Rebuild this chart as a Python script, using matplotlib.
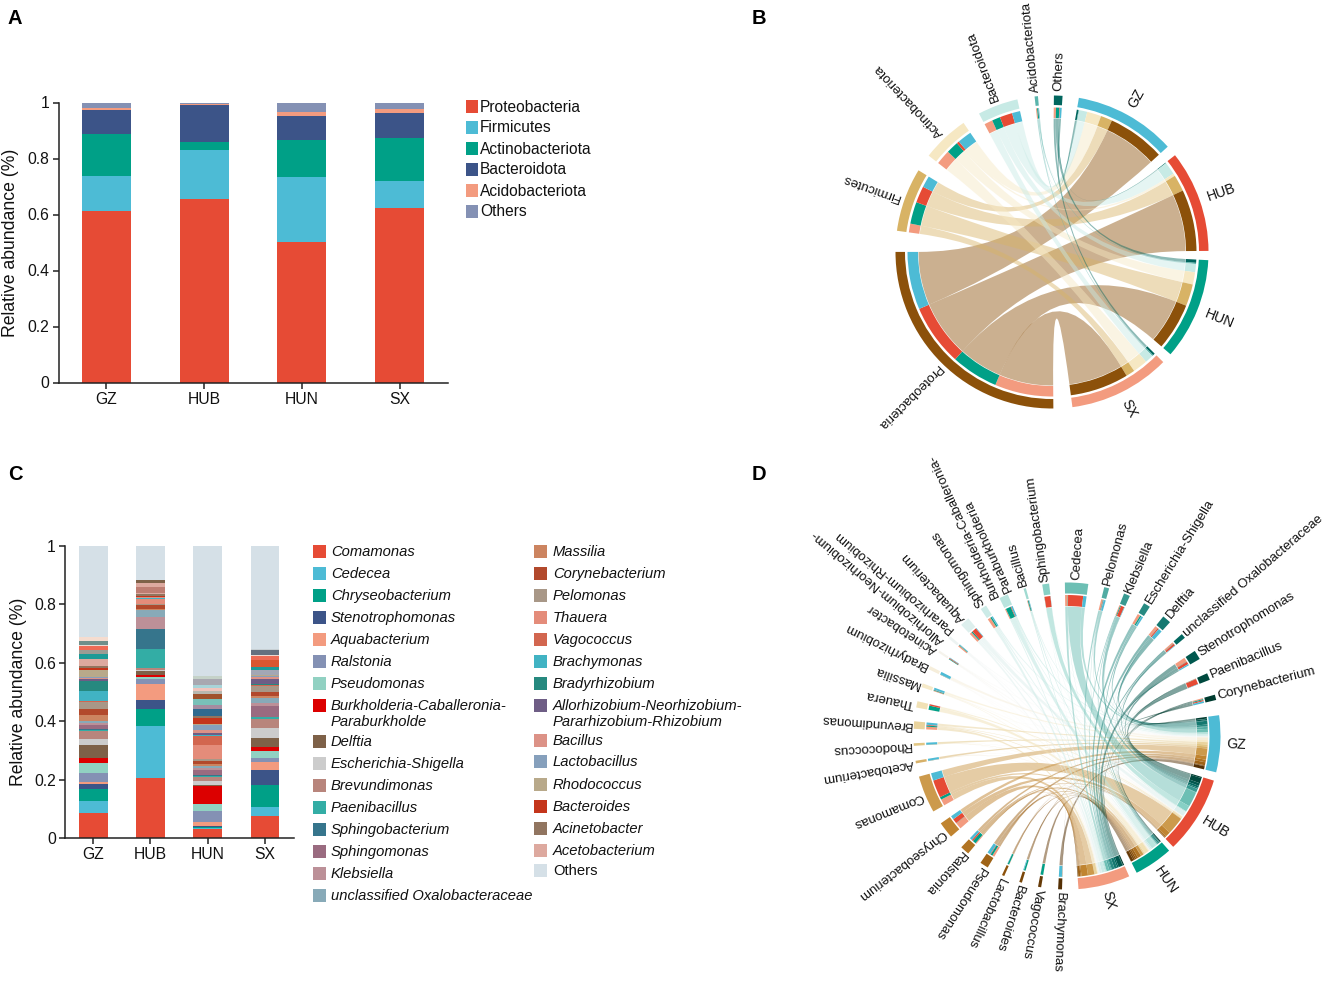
import numpy as np
import matplotlib
matplotlib.use("Agg")
import matplotlib.pyplot as plt
from matplotlib.patches import Wedge, PathPatch, Rectangle
from matplotlib.path import Path

plt.rcParams['font.family'] = ['Liberation Sans', 'DejaVu Sans']

W, H = 1325, 984
regions = ['GZ', 'HUB', 'HUN', 'SX']
region_colors = ['#4DBBD5', '#E64B35', '#00A087', '#F39B7F']

# ---------- Panel A / B data ----------
phyla = ['Proteobacteria', 'Firmicutes', 'Actinobacteriota', 'Bacteroidota', 'Acidobacteriota', 'Others']
phyla_bar_colors = ['#E64B35', '#4DBBD5', '#00A087', '#3C5488', '#F39B7F', '#8491B4']
phyla_ring_colors = ['#8C510A', '#D8B365', '#F6E8C3', '#C7EAE5', '#5AB4AC', '#01665E']
phyla_gz = [.614, .123, .151, .086, .007, .019]
phyla_hub = [.655, .176, .027, .134, .002, .006]
phyla_hun = [.502, .233, .130, .088, .012, .035]
phyla_sx = [.624, .094, .157, .089, .012, .024]

# ---------- Panel C / D data (values are the stack tops, legend order) ----------
genera = ['Comamonas', 'Cedecea', 'Chryseobacterium', 'Stenotrophomonas', 'Aquabacterium', 'Ralstonia',
          'Pseudomonas', 'Burkholderia-Caballeronia-\nParaburkholde', 'Delftia', 'Escherichia-Shigella',
          'Brevundimonas', 'Paenibacillus', 'Sphingobacterium', 'Sphingomonas', 'Klebsiella',
          'unclassified Oxalobacteraceae', 'Massilia', 'Corynebacterium', 'Pelomonas', 'Thauera', 'Vagococcus',
          'Brachymonas', 'Bradyrhizobium', 'Allorhizobium-Neorhizobium-\nPararhizobium-Rhizobium', 'Bacillus',
          'Lactobacillus', 'Rhodococcus', 'Bacteroides', 'Acinetobacter', 'Acetobacterium']
genus_colors = ['#E64B35', '#4DBBD5', '#00A087', '#3C5488', '#F39B7F', '#8491B4', '#91D1C2', '#DC0000', '#7E6148',
                '#CCCCCC', '#B8857C', '#33ADA5', '#36758C', '#9A6B80', '#BC9098', '#88AAB8', '#CC8460', '#B2492C',
                '#A89787', '#E48C7A', '#D2664F', '#41B3C3', '#26897F', '#6E5D85', '#DC9287', '#86A0BC', '#B8A98A',
                '#C4351B', '#917560', '#DDA99F']
others_color = '#D5E0E7'
tops_gz = [.088, .127, .170, .185, .192, .222, .258, .275, .319, .340, .367, .371, .373, .388, .394, .400, .423, .443,
           .467, .468, .469, .505, .537, .544, .550, .553, .576, .584, .590, .614]
tops_hub = [.208, .385, .441, .473, .527, .544, .551, .559, .574, .576, .584, .647, .716, .717, .757, .780, .783, .797,
            .802, .819, .820, .821, .822, .823, .825, .826, .827, .828, .837, .838]
tops_hun = [.031, .034, .037, .041, .055, .095, .119, .179, .181, .197, .211, .214, .216, .232, .242, .246, .254, .265,
            .270, .319, .350, .352, .354, .360, .370, .388, .391, .410, .418, .420]
tops_sx = [.076, .108, .184, .234, .262, .274, .299, .311, .344, .377, .409, .414, .415, .451, .462, .480, .488, .501,
           .521, .522, .523, .526, .528, .544, .552, .556, .557, .558, .559, .560]
# further unlabelled layers in each stack, below "Others"
extra_tops = {
    'GZ': [.630, .645, .658, .663, .676, .688],
    'HUB': [.861, .875, .884],
    'HUN': [.441, .457, .476, .492, .503, .514, .525, .544, .555],
    'SX': [.576, .586, .610, .622, .628, .643, .647],
}
extra_colors = {
    'GZ': ['#1E9A96', '#9C9C94', '#EE6B55', '#EADCD4', '#6F8F8A', '#F5DCCF'],
    'HUB': ['#BE7D72', '#DDA99F', '#7E6148'],
    'HUN': ['#2F6A8F', '#A58CA0', '#79C0B8', '#A0522D', '#B8B8B0', '#F0C4BC', '#A8D4D8', '#A8A8B0', '#C5D2C8'],
    'SX': ['#A3A7B5', '#1E9A96', '#D9572F', '#EE6B55', '#F0D8D0', '#66707F', '#C8D0D4'],
}

# ---------- Chord layout (degrees clockwise from the top) ----------
b_region_starts = [9.9, 51.8, 93.0, 134.7]
b_row_starts = [179.5, 277.8, 308.0, 332.2, 353.6, 360.7]
d_region_starts = [82.2, 106.9, 138.3, 156.1]
d_ring_names = ['Brachymonas', 'Vagococcus', 'Bacteroides', 'Lactobacillus', 'Pseudomonas', 'Ralstonia',
                'Chryseobacterium', 'Comamonas', 'Acetobacterium', 'Rhodococcus', 'Brevundimonas', 'Thauera',
                'Massilia', 'Bradyrhizobium', 'Acinetobacter', 'Allorhizobium-Neorhizobium-\nPararhizobium-Rhizobium',
                'Aquabacterium', 'Sphingomonas', 'Burkholderia-Caballeronia-\nParaburkholde', 'Bacillus',
                'Sphingobacterium', 'Cedecea', 'Pelomonas', 'Klebsiella', 'Escherichia-Shigella', 'Delftia',
                'unclassified Oxalobacteraceae', 'Stenotrophomonas', 'Paenibacillus', 'Corynebacterium']
d_centers = [182.6, 190.3, 197.6, 204.6, 212.7, 221.8, 232.2, 247.6, 260.2, 266.8, 274.1, 281.9, 289.3, 296.4, 303.4,
             310.0, 318.2, 327.0, 335.6, 344.0, 352.0, 363.6, 375.0, 383.0, 391.4, 400.5, 409.3, 418.1, 427.2, 435.4]


def pax(fig, l, t, r, b):
    return fig.add_axes([l / W, 1 - b / H, (r - l) / W, (b - t) / H])


def arc(theta1, theta2, r, n=None):
    n = n or max(2, int(abs(theta2 - theta1)) + 2)
    t = np.radians(np.linspace(theta1, theta2, n))
    return np.column_stack([r * np.sin(t), r * np.cos(t)])


def wedge(ax, t1, t2, r_out, width, color, z=3):
    ax.add_patch(Wedge((0, 0), r_out, 90 - t2, 90 - t1, width=width, facecolor=color, edgecolor='none', zorder=z))


def ribbon(ax, a1, a2, b1, b2, r, color, alpha):
    pa = arc(a1, a2, r)
    pb = arc(b1, b2, r)
    verts = list(pa) + [(0, 0), tuple(pb[0])] + list(pb[1:]) + [(0, 0), tuple(pa[0])]
    codes = [Path.MOVETO] + [Path.LINETO] * (len(pa) - 1) + [Path.CURVE3, Path.CURVE3] + \
            [Path.LINETO] * (len(pb) - 1) + [Path.CURVE3, Path.CURVE3]
    ax.add_patch(PathPatch(Path(verts, codes), facecolor=color, edgecolor='none', alpha=alpha, zorder=2))


def chord(ax, mat, row_names, row_colors, row_starts, region_starts, scale, rt, alpha, label_r, fs):
    """mat: rows x regions in ring order. Rows are clockwise on the ring."""
    r_out, w_out, r_in, w_in, r_rib = rt
    nr, nc = mat.shape
    region_pos = {}
    for c in range(nc):
        t = region_starts[c]
        wedge(ax, t, t + mat[:, c].sum() * scale, r_out, w_out, region_colors[c])
        mid = t + mat[:, c].sum() * scale / 2
        lx, ly = arc(mid, mid, r_out + label_r + 4, 2)[0]
        ax.text(lx, ly, regions[c], rotation=90 - mid, rotation_mode='anchor', ha='left', va='center',
                fontsize=fs + .6, color='#111111', zorder=5)
        for i in range(nr - 1, -1, -1):
            d = mat[i, c] * scale
            wedge(ax, t, t + d, r_in, w_in, row_colors[i])
            region_pos[(i, c)] = (t, t + d)
            t += d
    for i in range(nr):
        t = row_starts[i]
        total = mat[i].sum() * scale
        wedge(ax, t, t + total, r_out, w_out, row_colors[i])
        mid = t + total / 2
        lx, ly = arc(mid, mid, r_out + label_r, 2)[0]
        ax.text(lx, ly, row_names[i], rotation=90 - mid, rotation_mode='anchor', ha='left', va='center',
                fontsize=fs, color='#111111', zorder=5, multialignment='left')
        for c in range(nc - 1, -1, -1):
            d = mat[i, c] * scale
            wedge(ax, t, t + d, r_in, w_in, region_colors[c])
            b1, b2 = region_pos[(i, c)]
            ribbon(ax, t, t + d, b1, b2, r_rib, row_colors[i], alpha)
            t += d


fig = plt.figure(figsize=(W / 100, H / 100), dpi=100)
fig.patch.set_facecolor('white')


def style(ax, ylabel, lx):
    for s in ['top', 'right']:
        ax.spines[s].set_visible(False)
    for s in ['left', 'bottom']:
        ax.spines[s].set_linewidth(1.1)
        ax.spines[s].set_color('#222222')
    ax.set_ylim(0, 1)
    ax.set_yticks([0, .2, .4, .6, .8, 1])
    ax.set_yticklabels(['0', '0.2', '0.4', '0.6', '0.8', '1'])
    ax.set_xticks(range(4))
    ax.set_xticklabels(regions)
    ax.tick_params(length=4.5, width=1.1, labelsize=11.3, color='#222222', labelcolor='#111111', pad=2)
    ax.set_ylabel(ylabel, fontsize=12.7, color='#111111')
    ax.yaxis.set_label_coords(lx, .5)


# ---------- Panel A ----------
axA = pax(fig, 58.6, 102.5, 448, 382.5)
phyla_mat = np.array([phyla_gz, phyla_hub, phyla_hun, phyla_sx])
bottom = np.zeros(4)
for i, name in enumerate(phyla):
    axA.bar(range(4), phyla_mat[:, i], .5, bottom=bottom, color=phyla_bar_colors[i])
    bottom += phyla_mat[:, i]
axA.set_xlim(-.49, 3.495)
style(axA, 'Relative abundance (%)', (19 - 58.6) / 389.4)

# ---------- Panel C ----------
axC = pax(fig, 65, 546, 294, 838.3)
tops_by_region = [tops_gz, tops_hub, tops_hun, tops_sx]
tops_mat = np.array(tops_by_region)
vals_mat = np.diff(np.column_stack([np.zeros(4), tops_mat]), axis=1)
for i in range(len(genera)):
    axC.bar(range(4), vals_mat[:, i], .5, bottom=tops_mat[:, i] - vals_mat[:, i], color=genus_colors[i])
for c, reg in enumerate(regions):
    prev = tops_by_region[c][-1]
    for top, col in zip(extra_tops[reg], extra_colors[reg]):
        axC.bar(c, top - prev, .5, bottom=prev, color=col)
        prev = top
    axC.bar(c, 1 - prev, .5, bottom=prev, color=others_color)
axC.set_xlim(-.495, 3.51)
style(axC, 'Relative abundance (%)', (27 - 65) / 229)

# ---------- Overlay for legends and panel letters ----------
ov = fig.add_axes([0, 0, 1, 1], facecolor='none')
ov.set_xlim(0, W)
ov.set_ylim(H, 0)
ov.axis('off')
ov.set_zorder(10)

for letter, x, y in [('A', 15, 18), ('B', 759, 18), ('C', 15, 474), ('D', 759, 474)]:
    ov.text(x, y, letter, fontsize=14.5, fontweight='bold', ha='center', va='center', color='black')

a_rows = [106, 127, 148, 169, 190, 211]
for name, col, y in zip(phyla, phyla_bar_colors, a_rows):
    ov.add_patch(Rectangle((465.5, y - 6.5), 12.5, 13, facecolor=col, edgecolor='none'))
    ov.text(480, y + 1, name, fontsize=11.2, ha='left', va='center', color='#111111')

c_rows1 = [551, 573, 595, 617, 639, 661, 683, 705, 741, 763, 785, 807, 829, 851, 873, 895]
c_rows2 = [551, 573, 595, 617, 639, 661, 683, 705, 740, 761, 784, 806, 828, 850]
for i, (name, col) in enumerate(zip(genera, genus_colors)):
    if i < len(c_rows1):
        px, tx, y = 312.5, 331, c_rows1[i]
    else:
        px, tx, y = 534, 553, c_rows2[i - len(c_rows1)]
    ov.add_patch(Rectangle((px, y - 6.5), 13, 13, facecolor=col, edgecolor='none'))
    ov.text(tx, y - 6, name, fontsize=10.6, style='italic', ha='left', va='top', color='#111111', linespacing=1.2)
ov.add_patch(Rectangle((534, 870 - 6.5), 13, 13, facecolor=others_color, edgecolor='none'))
ov.text(553, 871, 'Others', fontsize=10.6, ha='left', va='center', color='#111111')

# ---------- Panel B ----------
half = 200
axB = pax(fig, 1052 - half, 252 - half, 1052 + half, 252 + half)
axB.set_xlim(-half, half)
axB.set_ylim(-half, half)
axB.axis('off')
chord(axB, phyla_mat.T, phyla, phyla_ring_colors, b_row_starts, b_region_starts, 37.8,
      (156.5, 9.5, 144.5, 10.5, 133.5), .45, 4.5, 9.5)

# ---------- Panel D ----------
axD = pax(fig, 1067 - half, 736 - half, 1067 + half, 736 + half)
axD.set_xlim(-half, half)
axD.set_ylim(-half, half)
axD.axis('off')
order = [genera.index(n) for n in d_ring_names]
d_mat = vals_mat.T[order]
cmap = plt.get_cmap('BrBG')
d_colors = [cmap(k / (len(order) - 1)) for k in range(len(order))]
d_starts = [c - d_mat[k].sum() * 35 / 2 for k, c in enumerate(d_centers)]
d_labels = [n.replace('Paraburkholde', 'Paraburkholderia') for n in d_ring_names]
chord(axD, d_mat, d_labels, d_colors, d_starts, d_region_starts, 35,
      (153.5, 11, 141, 11, 129.5), .5, 2.5, 9.5)

fig.savefig('out.png', dpi=100)
